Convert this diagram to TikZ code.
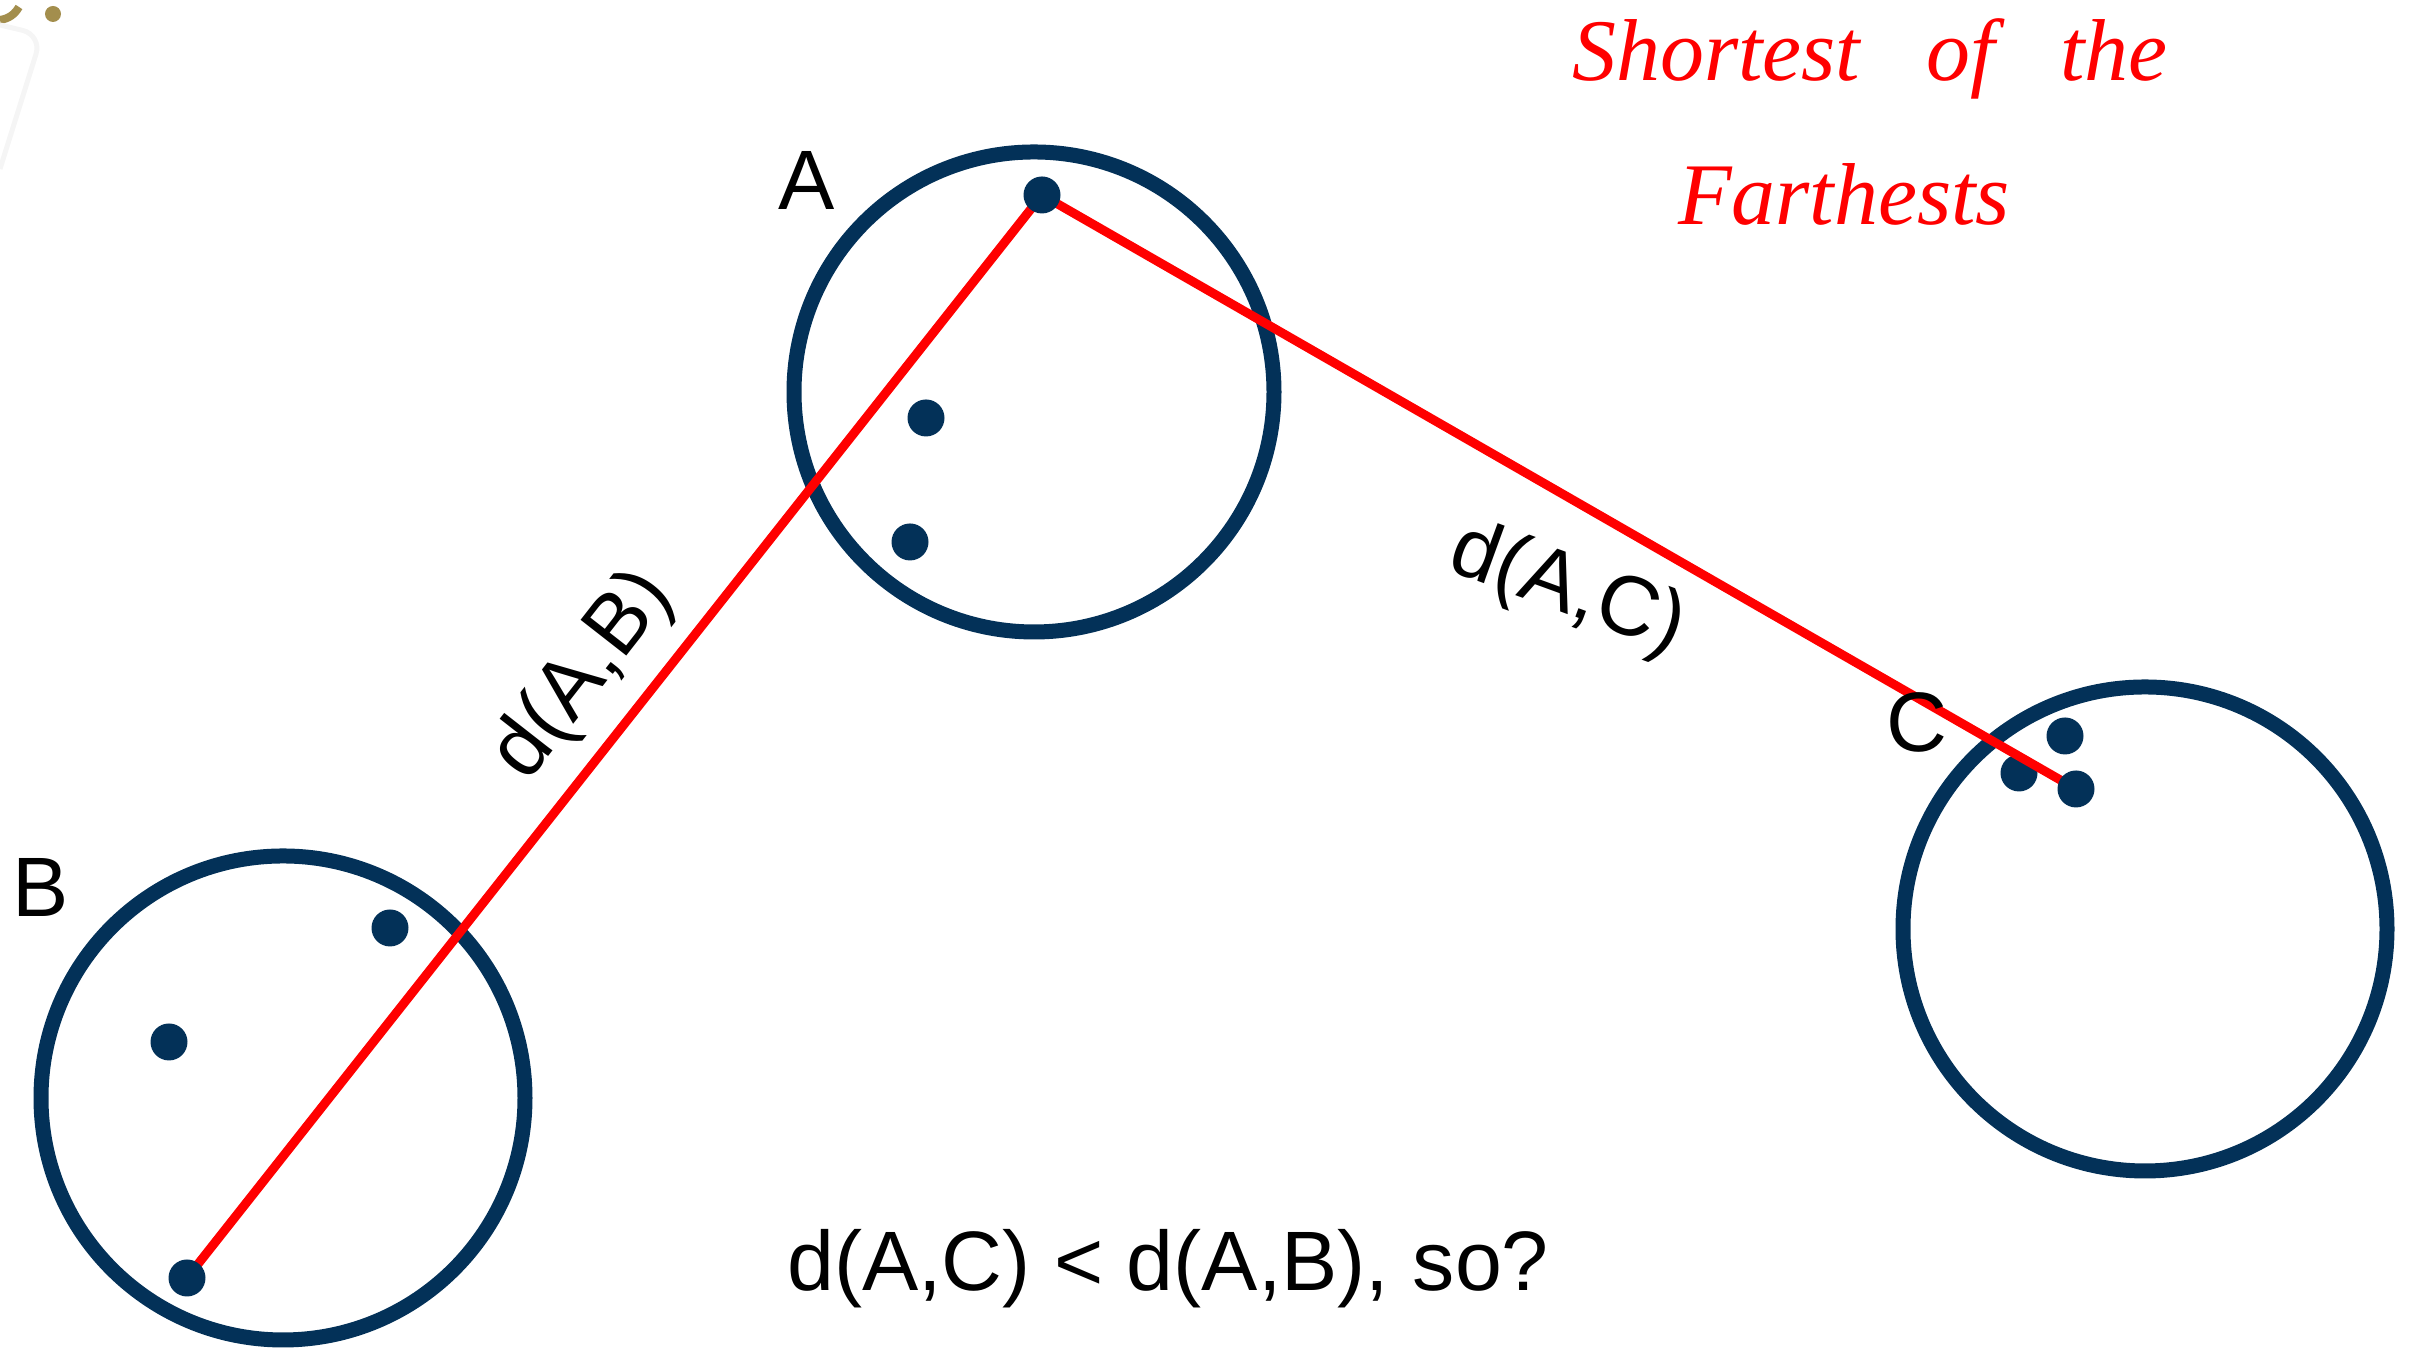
\documentclass[tikz,border=0pt]{standalone}
\usepackage{fontspec}
\setmainfont{Liberation Sans}
\newfontfamily\handfont{Liberation Serif}
\usepackage{tikz}
\usetikzlibrary{calc}

\definecolor{navy}{RGB}{3,49,88}
\definecolor{olive}{RGB}{163,142,77}

\tikzset{
  cluster/.style={draw=navy, line width=0.15cm},
  dot/.style={circle, fill=navy, inner sep=0pt, minimum size=0.37cm},
  link/.style={draw=red, line width=0.09cm},
  lbl/.style={font=\fontsize{24}{28}\selectfont, inner sep=0pt},
  hand/.style={font=\handfont\itshape\fontsize{25}{29}\selectfont, text=red, inner sep=0pt}
}

\begin{document}
\begin{tikzpicture}
\useasboundingbox (0,0) rectangle (24.09,13.49);
% corner marks
\draw[olive, line width=0.08cm] (0,13.29) to[bend right=25] (0.19,13.42);
\fill[olive] (0.53,13.35) circle (0.08);
\draw[gray!8, line width=0.05cm, rounded corners=0.2cm] (0,13.24) -- (0.42,13.14) -- (0,11.8);

\draw[cluster] (10.34,9.57) circle (2.40);
\draw[cluster] (2.83,2.51) circle (2.42);
\draw[cluster] (21.45,4.20) circle (2.42);

\coordinate (pA) at (10.42,11.54);
\coordinate (pB) at (1.87,0.71);
\coordinate (pC) at (20.76,5.60);

\node[dot] (c2) at (20.19,5.76) {};
\draw[link] (pA) -- (pB);
\draw[link] (pA) -- (pC);

\node[dot] (a1) at (pA) {};
\foreach \nm/\pos in {a2/{9.26,9.31}, a3/{9.10,8.07}, b1/{3.90,4.21}, b2/{1.69,3.07}, c1/{20.65,6.13}} {
  \node[dot] (\nm) at (\pos) {};
}
\node[dot] (b3) at (pB) {};
\node[dot] (c3) at (pC) {};

\node[lbl] (labA) at (8.07,11.68) {A};
\node[lbl] (labB) at (0.41,4.61) {B};
\node[lbl] (labC) at (19.17,6.27) {C};

\node[lbl, rotate=52] (dab) at (5.84,6.73) {d(A,B)};
\node[lbl, rotate=-20] (dac) at (15.67,7.58) {d(A,C)};
\node[lbl] (ask) at (11.68,0.80) {d(A,C) < d(A,B), so?};

\node[hand] (hand1) at (18.70,12.90) {Shortest\ \ \ of\ \ \ the};
\node[hand] (hand2) at (18.44,11.55) {Farthests};
\end{tikzpicture}
\end{document}
